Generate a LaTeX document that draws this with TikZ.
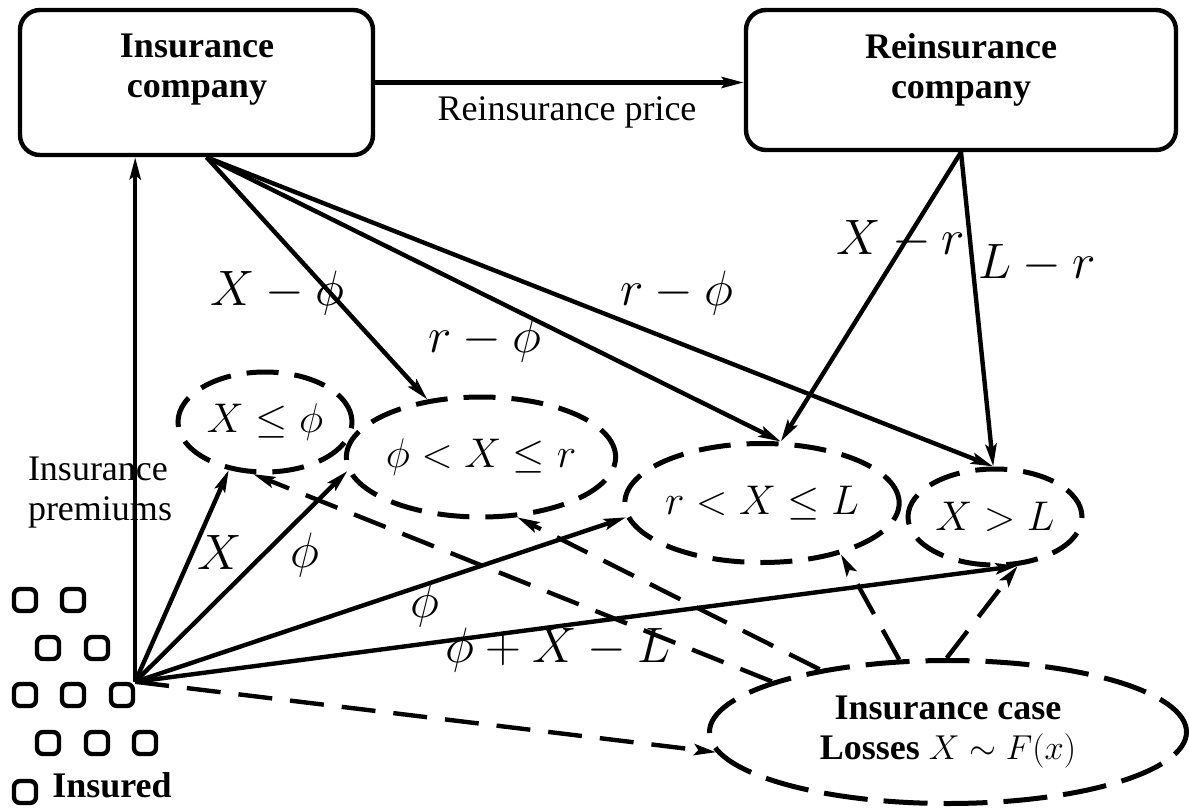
\documentclass[tikz,border=0pt]{standalone}
\usepackage{fontspec}
\setmainfont{Liberation Serif}
\usetikzlibrary{arrows.meta,shapes.geometric}

\tikzset{
	firm/.style={draw, rounded corners=10pt, line width=2.2pt},
	event/.style={draw, ellipse, line width=2.5pt, dash pattern=on 16pt off 8pt, inner sep=0pt},
	pay/.style={->, line width=2.2pt},
	loss/.style={->, line width=2.2pt, dash pattern=on 17pt off 9pt},
	insured/.style={draw, rounded corners=3pt, minimum size=11pt, inner sep=0pt, line width=2.2pt},
	amount/.style={font=\fontsize{23}{27}\selectfont},
}

\begin{document}
\begin{tikzpicture}[x=0.5pt, y=-0.5pt, >={Stealth[length=11pt,width=5.5pt,inset=2pt]}, font=\fontsize{18}{20}\selectfont]
		\useasboundingbox (0,0) rectangle (1189,808);
		% companies
		\node[firm, minimum width=176.5pt, minimum height=72.5pt] (ic) at (196.5,82.5) {};
		\node[align=center, font=\fontsize{18}{20}\selectfont\bfseries] (ictext) at (197,70) {Insurance\\company};
		\node[firm, minimum width=215pt, minimum height=70pt] (rc) at (961,80) {};
		\node[align=center, font=\fontsize{18}{20}\selectfont\bfseries] (rctext) at (961,70) {Reinsurance\\company};
		% outcomes of the loss
		\node[event, minimum width=87pt, minimum height=50pt, font=\fontsize{20}{24}\selectfont] (e1) at (265,422) {$X\leq\phi$};
		\node[event, minimum width=123.5pt, minimum height=60pt, font=\fontsize{22}{26}\selectfont] (e2) at (481,457) {$\phi<X\leq r$};
		\node[event, minimum width=130.5pt, minimum height=59.5pt, font=\fontsize{22}{26}\selectfont] (e3) at (762,503) {$r<X\leq L$};
		\node[event, minimum width=87pt, minimum height=48pt, font=\fontsize{20}{24}\selectfont] (e4) at (995,517) {$X>L$};
		\node[event, minimum width=238.5pt, minimum height=71.5pt, dash pattern=on 22pt off 8pt, align=center] (case) at (948,732) {\textbf{Insurance case}\\\textbf{Losses} {\fontsize{19}{20}\selectfont$X\sim F(x)$}};
		% insured
		\foreach \p [count=\i] in {(25,600),(73,600),(48,648),(97,648),(25,695),(73,695),(122,695),(48,743),(97,743),(145,743),(25,792)}{
			\node[insured] (p\i) at \p {};
		}
		\coordinate (hub) at (p7.north east);
		\node[font=\fontsize{18}{20}\selectfont\bfseries] (insured) at (112,785) {Insured};
		% flows
		\draw[pay] (ic.east) -- (ic.east -| rc.west);
		\node (price) at (567,112) {Reinsurance price};
		\draw[pay] (hub) -- (hub |- ic.south);
		\node[align=left] (premium) at (100,493) {Insurance\\premiums};
		\draw[pay] (hub) -- (e1.233);
		\draw[pay] (hub) -- (e2.186);
		\draw[pay] (hub) -- (e3.186);
		\draw[pay] (hub) -- (e4.295);
		\draw[loss] (hub) -- (case.185);
		\draw[pay] ([xshift=5pt]ic.south) -- (e2.133);
		\draw[pay] ([xshift=5pt]ic.south) -- (e3.73);
		\draw[pay] ([xshift=5pt]ic.south) -- (e4.92);
		\draw[pay] (rc.south) -- (e3.73);
		\draw[pay] (rc.south) -- (e4.92);
		\draw[loss] (case.164) -- (e1.257);
		\draw[loss] (case.154) -- (e2.301);
		\draw[loss] (case.124) -- (e3.327);
		\draw[loss] (case.91) -- (e4.295);
		% amounts
		\node[amount] (a1) at (277,293) {$X-\phi$};
		\node[amount] (a2) at (485,340) {$r-\phi$};
		\node[amount] (a3) at (677,293) {$r-\phi$};
		\node[amount] (a4) at (901,240) {$X-r$};
		\node[amount] (a5) at (1037,264) {$L-r$};
		\node[amount] (a6) at (220,552) {$X$};
		\node[amount] (a7) at (305,555) {$\phi$};
		\node[amount] (a8) at (425,605) {$\phi$};
		\node[amount] (a9) at (558,650) {$\phi+X-L$};
	\end{tikzpicture}
\end{document}
